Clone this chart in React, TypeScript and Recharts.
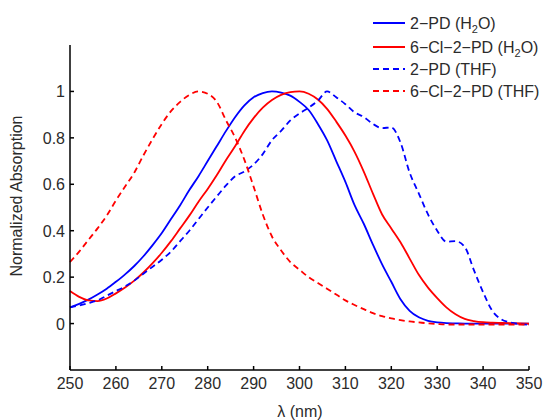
import { LineChart, Line, XAxis, YAxis } from 'recharts';

// wavelength grid (nm)
const wavelength = [
  250, 252, 254, 256, 258, 260, 262, 264, 266, 268, 270, 272, 274, 276, 278, 280, 282,
  284, 286, 288, 290, 292, 294, 296, 298, 300, 302, 304, 306, 308, 310, 312, 314, 316,
  318, 320, 322, 324, 326, 328, 330, 332, 334, 336, 338, 340, 342, 344, 346, 348, 350,
];

// normalized absorption
const pdWater = [
  0.07, 0.085, 0.103, 0.125, 0.15, 0.18, 0.212, 0.248, 0.29, 0.338, 0.39, 0.45, 0.51,
  0.575, 0.635, 0.7, 0.765, 0.83, 0.89, 0.94, 0.975, 0.993, 1.0, 0.995, 0.982, 0.955,
  0.92, 0.86, 0.79, 0.7, 0.61, 0.51, 0.43, 0.34, 0.255, 0.18, 0.105, 0.055, 0.027, 0.012,
  0.005, 0.002, 0.001, 0, 0, 0, 0, 0, 0, 0, 0,
];
const clPdWater = [
  0.14, 0.115, 0.1, 0.097, 0.108, 0.13, 0.155, 0.185, 0.22, 0.26, 0.305, 0.355, 0.41,
  0.465, 0.525, 0.58, 0.64, 0.705, 0.765, 0.83, 0.885, 0.93, 0.963, 0.985, 0.997, 1.0,
  0.99, 0.965, 0.925, 0.87, 0.81, 0.74, 0.655, 0.56, 0.47, 0.41, 0.35, 0.28, 0.21, 0.155,
  0.11, 0.07, 0.04, 0.02, 0.011, 0.006, 0.004, 0.003, 0.002, 0.001, 0,
];
const pdThf = [
  0.07, 0.078, 0.088, 0.1, 0.12, 0.14, 0.16, 0.185, 0.215, 0.245, 0.275, 0.31, 0.355,
  0.4, 0.45, 0.5, 0.548, 0.595, 0.635, 0.655, 0.685, 0.73, 0.79, 0.83, 0.875, 0.905,
  0.93, 0.96, 1.0, 0.975, 0.945, 0.91, 0.89, 0.86, 0.842, 0.845, 0.78, 0.65, 0.56, 0.47,
  0.4, 0.353, 0.355, 0.33, 0.23, 0.135, 0.055, 0.018, 0.005, -0.002, -0.005,
];
const clPdThf = [
  0.265, 0.31, 0.36, 0.41, 0.465, 0.53, 0.59, 0.65, 0.725, 0.795, 0.86, 0.915, 0.955,
  0.985, 1.0, 0.99, 0.955, 0.875, 0.8, 0.705, 0.59, 0.47, 0.375, 0.315, 0.265, 0.232,
  0.2, 0.175, 0.15, 0.125, 0.1, 0.08, 0.062, 0.045, 0.032, 0.022, 0.015, 0.009, 0.005,
  0.001, -0.002, -0.004, -0.004, -0.004, -0.004, -0.004, -0.004, -0.004, -0.004, -0.004,
  -0.004,
];

const xTicks = [250, 260, 270, 280, 290, 300, 310, 320, 330, 340, 350];
const yTicks = [0, 0.2, 0.4, 0.6, 0.8, 1];

const series = [
  { key: 'pdWater', name: '2−PD (H', sub: '2', tail: 'O)', color: '#0000ff', dash: undefined },
  { key: 'clPdWater', name: '6−Cl−2−PD (H', sub: '2', tail: 'O)', color: '#ff0000', dash: undefined },
  { key: 'pdThf', name: '2−PD (THF)', sub: '', tail: '', color: '#0000ff', dash: '6 4' },
  { key: 'clPdThf', name: '6−Cl−2−PD (THF)', sub: '', tail: '', color: '#ff0000', dash: '6 4' },
];

const data = wavelength.map((w, i) => ({
  w,
  pdWater: pdWater[i],
  clPdWater: clPdWater[i],
  pdThf: pdThf[i],
  clPdThf: clPdThf[i],
}));

const FONT = '"Liberation Sans", Arial, sans-serif';
const TEXT = '#2b2b2b';
const FS = 16;

function XTick(props: any) {
  const { x, y, payload } = props;
  return (
    <g>
      <line x1={x} y1={y} x2={x} y2={y - 4} stroke="#000" strokeWidth={1.5} />
      <text x={x} y={y + 19} textAnchor="middle" fontSize={FS} fill={TEXT} fontFamily={FONT}>
        {payload.value}
      </text>
    </g>
  );
}

function YTick(props: any) {
  const { x, y, payload } = props;
  return (
    <g>
      <line x1={x + 5} y1={y} x2={x + 9} y2={y} stroke="#000" strokeWidth={1.5} />
      <text x={x} y={y + 6} textAnchor="end" fontSize={FS} fill={TEXT} fontFamily={FONT}>
        {payload.value}
      </text>
    </g>
  );
}

function LegendBox() {
  const rows = [23, 47, 69, 91];
  return (
    <svg
      width={170}
      height={105}
      style={{ position: 'absolute', left: 373, top: 0, overflow: 'visible' }}
    >
      {series.map((s, i) => (
        <g key={s.key}>
          <line
            x1={0}
            y1={rows[i]}
            x2={32}
            y2={rows[i]}
            stroke={s.color}
            strokeWidth={2}
            strokeDasharray={s.dash}
          />
          <text x={37} y={rows[i] + 6} fontSize={FS} fill={TEXT} fontFamily={FONT}>
            {s.name}
            {s.sub && (
              <tspan fontSize={11} dy={4}>
                {s.sub}
              </tspan>
            )}
            {s.tail && <tspan dy={-4}>{s.tail}</tspan>}
          </text>
        </g>
      ))}
    </svg>
  );
}

export default function App() {
  return (
    <div style={{ position: 'absolute', left: 0, top: 0, width: 543, height: 420, background: '#fff', overflow: 'hidden' }}>
      <LineChart width={543} height={420} data={data} margin={{ top: 45, right: 14, bottom: 20, left: 10 }}>
        <XAxis
          dataKey="w"
          type="number"
          domain={[250, 350]}
          ticks={xTicks}
          tick={<XTick />}
          tickLine={false}
          tickSize={0}
          tickMargin={0}
          height={30}
          axisLine={{ stroke: '#000', strokeWidth: 1.5 }}
          label={{
            content: () => (
              <text x={300} y={417} textAnchor="middle" fontSize={FS} fill={TEXT} fontFamily={FONT}>
                λ (nm)
              </text>
            ),
          }}
        />
        <YAxis
          type="number"
          domain={[-0.2, 1.2]}
          ticks={yTicks}
          tick={<YTick />}
          tickLine={false}
          tickSize={0}
          tickMargin={5}
          width={60}
          allowDataOverflow
          axisLine={{ stroke: '#000', strokeWidth: 1.5 }}
          label={{
            content: () => (
              <text
                x={22}
                y={196}
                transform="rotate(-90 22 196)"
                textAnchor="middle"
                fontSize={FS}
                fill={TEXT}
                fontFamily={FONT}
              >
                Normalized Absorption
              </text>
            ),
          }}
        />
        {series.map((s) => (
          <Line
            key={s.key}
            dataKey={s.key}
            type="monotone"
            stroke={s.color}
            strokeWidth={1.8}
            strokeDasharray={s.dash}
            dot={false}
            activeDot={false}
            isAnimationActive={false}
          />
        ))}
      </LineChart>
      <LegendBox />
    </div>
  );
}
